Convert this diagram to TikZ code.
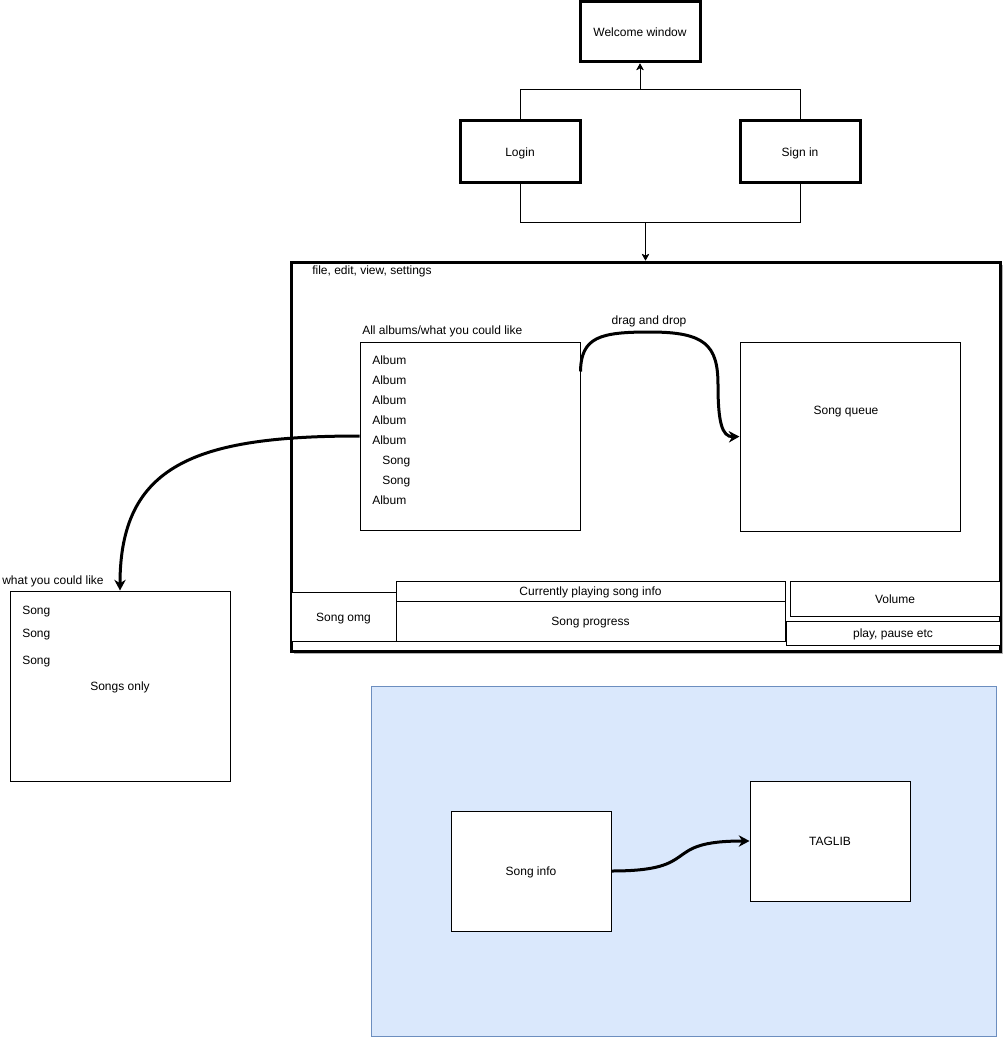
\documentclass[tikz,border=0pt]{standalone}
\usepackage{fontspec}
\setmainfont{Liberation Sans}
\usetikzlibrary{arrows.meta,calc,shadows}
\definecolor{bluefill}{HTML}{DAE8FC}
\definecolor{bluedraw}{HTML}{6C8EBF}
\begin{document}
\begin{tikzpicture}[x=0.75pt,y=-0.75pt,
  every node/.style={font=\fontsize{9}{11}\selectfont, inner sep=0pt, text height=0.905em, text depth=0.212em},
  wh/.style 2 args={minimum width=#1*0.75pt, minimum height=#2*0.75pt},
  thickbox/.style={draw, line width=2.25pt, fill=white},
  box/.style={draw, line width=0.75pt, fill=white},
  txt/.style={anchor=west},
  thinarrow/.style={line width=0.75pt, -{Stealth[length=5pt,width=5.5pt,inset=1.5pt]}},
  bigarrow/.style={line width=2.25pt, -{Stealth[length=8pt,width=8.5pt,inset=2.5pt]}},
]
\useasboundingbox (0,0) rectangle (1004,1038);

% top flow
\node[thickbox, wh={120}{60}] (welcome) at (640,32) {Welcome window};
\node[thickbox, wh={120}{61}] (login) at (520,151.5) {Login};
\node[thickbox, wh={120}{61}] (signin) at (800,151.5) {Sign in};

% main window
\node[thickbox, wh={709}{389}, drop shadow={shadow xshift=2.25pt, shadow yshift=-2.25pt, fill=black!30, opacity=1}] (main) at (645.5,456.5) {};

\draw[thinarrow] (login.north) -- ++(0,-30) -| (welcome.south);
\draw[thinarrow] (signin.north) -- ++(0,-30) -| (welcome.south);
\draw[thinarrow] (login.south) -- ++(0,39) -| (main.north);
\draw[thinarrow] (signin.south) -- ++(0,39) -| (main.north);

\node[txt] (menu) at (312,270) {file, edit, view, settings};
\node[txt] (albumslbl) at (362,330) {All albums/what you could like};

\node[box, wh={220}{188}] (albums) at (470,436) {};
\node[txt] (a1) at (372,360) {Album};
\node[txt] (a2) at (372,380) {Album};
\node[txt] (a3) at (372,400) {Album};
\node[txt] (a4) at (372,420) {Album};
\node[txt] (a5) at (372,440) {Album};
\node[txt] (s1) at (382,460) {Song};
\node[txt] (s2) at (382,480) {Song};
\node[txt] (a6) at (372,500) {Album};

\node[box, wh={220}{189}] (queue) at (850,436.5) {};
\node (queuelbl) at (846,410) {Song queue};

\node (dragdrop) at (649,320) {drag and drop};
\draw[bigarrow] ($(albums.north east)+(0,30)$) .. controls (581,337) and (600,332) .. (650,332)
  .. controls (705,332) and (718,345) .. (718,385) .. controls (718,422) and (722,437) .. (queue.west);

% bottom bar
\node[box, wh={105}{49}] (songomg) at (343.5,616.5) {Song omg};
\node[box, wh={389}{20}] (cur) at (590.5,591) {Currently playing song info};
\node[box, wh={389}{40}] (prog) at (590.5,621) {Song progress};
\node[box, wh={210}{35}] (vol) at (895,598.5) {Volume};
\node[box, wh={214}{24}] (play) at (893,633) {play, pause etc};

% what you could like
\node[txt] (wycllbl) at (2,580) {what you could like};
\node[box, wh={220}{190}] (wycl) at (120,686) {Songs only};
\node[txt] (w1) at (22,610) {Song};
\node[txt] (w2) at (22,633) {Song};
\node[txt] (w3) at (22,660) {Song};
\draw[bigarrow] (albums.west) .. controls (195,436) and (120,465) .. (wycl.north);

% blue panel
\node[draw=bluedraw, fill=bluefill, line width=0.75pt, wh={625}{350}] (panel) at (683.5,861) {};
\node[box, wh={160}{120}] (songinfo) at (531,871) {Song info};
\node[box, wh={160}{120}] (taglib) at (830,841) {TAGLIB};
\draw[bigarrow] (songinfo.east) .. controls (705,871) and (658,841) .. (taglib.west);
\end{tikzpicture}
\end{document}
